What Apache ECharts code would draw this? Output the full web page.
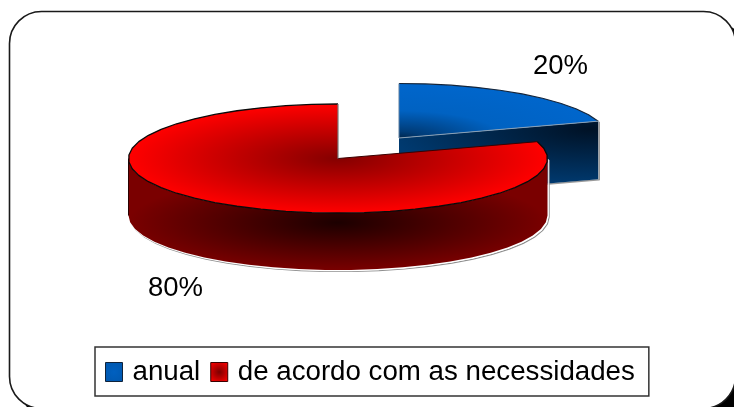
<!DOCTYPE html>
<html><head><meta charset="utf-8">
<style>html,body{margin:0;padding:0;background:#fff}#c{width:734px;height:407px}</style>
<script src="https://cdn.jsdelivr.net/npm/echarts@6/dist/echarts.min.js"></script>
</head><body><div id="c"></div>
<script>
// ---- data ----
const categories = ['anual', 'de acordo com as necessidades'];
const shares = [20, 80];
const sliceLabels = ['20%', '80%'];

// ---- layout & style ----
const FONT = '"Liberation Sans", Arial, sans-serif';
const RX = 209.5, RY = 54.5, DEPTH = 57, STEP = 7.2;
const centers = [[399, 138], [338, 158.5]];
const labelPos = [[533, 66], [148, 288]];
const total = shares.reduce((a, b) => a + b, 0);

function rim(c, a0, a1, dy) {
  const pts = [], n = Math.max(1, Math.round((a1 - a0) / STEP));
  for (let i = 0; i <= n; i++) {
    const t = (a0 + (a1 - a0) * i / n) * Math.PI / 180;
    pts.push([c[0] + RX * Math.sin(t), c[1] - RY * Math.cos(t) + (dy || 0)]);
  }
  return pts;
}
function radial(cx, cy, r, stops) {
  return { type: 'radial', x: cx, y: cy, r: r, global: true,
    colorStops: stops.map(s => ({ offset: s[0], color: s[1] })) };
}
// fill drawn in a y-squashed local frame so that the radial gradient becomes an ellipse
function squashedFill(pts, ox, oy, k, fill) {
  return { type: 'polygon', x: ox, y: oy, scaleY: k, silent: true,
    shape: { points: pts.map(p => [p[0] - ox, (p[1] - oy) / k]) },
    style: { fill: fill } };
}
function line(pts, color, w, dx, dy, closed) {
  return { type: closed ? 'polygon' : 'polyline', silent: true,
    shape: { points: pts.map(p => [p[0] + (dx || 0), p[1] + (dy || 0)]) },
    style: { fill: 'none', stroke: color, lineWidth: w, lineJoin: 'round' } };
}
function label(i) {
  return { type: 'text', silent: true, x: labelPos[i][0], y: labelPos[i][1],
    style: { text: sliceLabels[i], fill: '#000', font: '27.5px ' + FONT, textAlign: 'left', textVerticalAlign: 'middle' } };
}
function angles(i) {
  let a = 0;
  for (let j = 0; j < i; j++) a += shares[j];
  return [a / total * 360, (a + shares[i]) / total * 360];
}

function renderBlue(params, api) {
  const c = centers[0], ang = angles(0), share = api.value(0);
  const a1 = ang[0] + share / total * 360;
  const edge = rim(c, a1, a1)[0];
  const top = [c].concat(rim(c, ang[0], a1));
  const wall = [c, edge, [edge[0], edge[1] + DEPTH + 1], [c[0], c[1] + DEPTH + 1]];
  return { type: 'group', children: [
    line([wall[1], wall[2], wall[3]], '#9a9a9a', 1.5, 1, 0.5),
    squashedFill(wall, edge[0] - 8, edge[1] + 8, 0.28, radial(0, 0, 200, [[0, '#001226'], [1, '#003a70']])),
    squashedFill(top, c[0], c[1], RY / RX, radial(0, 0, RX, [[0, '#00264d'], [0.12, '#003c78'], [0.5, '#0062c2'], [1, '#0066cc']])),
    line(rim(c, ang[0], a1), '#15253a', 1.2, 0, 0),
    line([[c[0], rim(c, 0, 0)[0][1]], c], '#5f7f9f', 1, 0, 0),
    line([c, edge], '#8aa0b5', 1, 0, 0),
    label(0)
  ] };
}
function renderRed(params, api) {
  const c = centers[1], ang = angles(1);
  const a1 = ang[0] + api.value(0) / total * 360;
  const top = [c].concat(rim(c, ang[0], a1));
  const front = rim(c, 90, 270);
  const lower = rim(c, 90, 270, DEPTH);
  const wall = front.concat(lower.slice().reverse());
  const outer = [front[0]].concat(lower);
  return { type: 'group', children: [
    line(outer, '#8f8f8f', 1.2, 1.6, 1.6),
    line(outer, '#ffffff', 1.2, 0.7, 0.7),
    squashedFill(wall, c[0], c[1] + 64, 0.23, radial(0, 0, RX, [[0, '#1c0000'], [1, '#7a0000']])),
    line([front[front.length - 1], lower[lower.length - 1]], '#2a0000', 1, 0, 0),
    squashedFill(top, c[0], c[1], RY / RX, radial(0, 0, RX, [[0, '#850000'], [1, '#ff0000']])),
    line(rim(c, ang[0], a1), '#0a0a0a', 1.3, 0, 0),
    line([rim(c, ang[0], ang[0])[0], c], '#3a0000', 1, 0, 0),
    line([c, rim(c, a1, a1)[0]], '#7a7a7a', 1.2, 0, 0),
    label(1)
  ] };
}

const legendIcon = (inner, outer) => ({ type: 'radial', x: 0.5, y: 0.5, r: 0.6,
  colorStops: [{ offset: 0, color: inner }, { offset: 1, color: outer }] });

const chart = echarts.init(document.getElementById('c'), null, { renderer: 'canvas' });
chart.setOption({
  animation: false,
  backgroundColor: '#fff',
  graphic: { elements: [
    { type: 'rect', z: -20, silent: true, shape: { x: 19, y: 21, width: 726, height: 397, r: 32 }, style: { fill: '#000' } },
    { type: 'rect', z: -19, silent: true, shape: { x: 9.5, y: 11.5, width: 726, height: 397, r: 32 }, style: { fill: '#fff', stroke: '#1a1a1a', lineWidth: 1.6 } }
  ] },
  legend: {
    left: 95, top: 347, orient: 'horizontal', selectedMode: false,
    padding: [11, 14, 10, 10], itemGap: 10, itemWidth: 17, itemHeight: 19,
    backgroundColor: '#fff', borderColor: '#333', borderWidth: 1.5,
    textStyle: { fontFamily: FONT, fontSize: 27.7, color: '#000', padding: [0, 0, 3, 5] },
    data: [
      { name: categories[0], icon: 'rect', itemStyle: { color: legendIcon('#0060c0', '#0058b0'), borderColor: '#10233a', borderWidth: 1 } },
      { name: categories[1], icon: 'rect', itemStyle: { color: legendIcon('#7a0000', '#ee0000'), borderColor: '#3a0000', borderWidth: 1 } }
    ]
  },
  series: [
    { type: 'custom', name: categories[0], coordinateSystem: 'none', z: 2, itemStyle: { color: '#0060c0' },
      renderItem: renderBlue, data: [[shares[0]]] },
    { type: 'custom', name: categories[1], coordinateSystem: 'none', z: 3, itemStyle: { color: '#ee0000' },
      renderItem: renderRed, data: [[shares[1]]] }
  ]
});
</script></body></html>
